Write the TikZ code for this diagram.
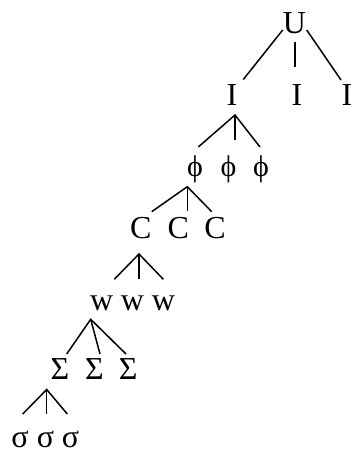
\documentclass[tikz,border=0pt]{standalone}
\usepackage{fontspec}
\setmainfont{Liberation Serif}
\begin{document}
\begin{tikzpicture}[x=1pt,y=-1pt,
  lbl/.style={inner sep=0pt,anchor=base,font=\fontsize{32}{32}\selectfont},
  phi/.style={lbl,font=\fontsize{30}{30}\selectfont},
  edge/.style={line width=1.5pt,line cap=butt}]
\useasboundingbox (0,0) rectangle (351,453);
% ---- labels, one row per level ----
\node[lbl] (U)  at (294.5,33) {U};
\node[lbl] (I1) at (232,105) {I};
\node[lbl] (I2) at (297,105) {I};
\node[lbl] (I3) at (347,105) {I};
\node[phi] (P1) at (195,176) {ϕ};
\node[phi] (P2) at (228.5,176) {ϕ};
\node[phi] (P3) at (261,176) {ϕ};
\node[lbl] (C1) at (140.7,238) {C};
\node[lbl] (C2) at (178.3,238) {C};
\node[lbl] (C3) at (215,238) {C};
\node[lbl] (W1) at (101.7,310) {w};
\node[lbl] (W2) at (132.5,310) {w};
\node[lbl] (W3) at (163.5,310) {w};
\node[lbl] (S1) at (60,379) {Σ};
\node[lbl] (S2) at (94.5,379) {Σ};
\node[lbl] (S3) at (128.3,379) {Σ};
\node[lbl] (s1) at (20,447) {σ};
\node[lbl] (s2) at (45.5,447) {σ};
\node[lbl] (s3) at (70.5,447) {σ};
% ---- branch points and branch ends ----
\coordinate (uL) at (282.7,30);  \coordinate (uLe) at (243.3,79.5);
\coordinate (uM) at (295,42);    \coordinate (uMe) at (295,67);
\coordinate (uR) at (306.7,30);  \coordinate (uRe) at (341,80);
\coordinate (aI) at (235,115);
\coordinate (aI1) at (198.3,147); \coordinate (aI2) at (235,139.5); \coordinate (aI3) at (260,147);
\coordinate (aP) at (187.3,186.7);
\coordinate (aP1) at (151.7,211.7); \coordinate (aP2) at (187.3,210.7); \coordinate (aP3) at (211.7,211.7);
\coordinate (aC) at (139,254);
\coordinate (aC1) at (114.3,279.3); \coordinate (aC2) at (139,279.3); \coordinate (aC3) at (163.3,279.3);
\coordinate (aW) at (90.7,319.3);
\coordinate (aW1) at (66.7,354); \coordinate (aW2) at (100,354); \coordinate (aW3) at (126,354);
\coordinate (aS) at (46.7,389.5);
\coordinate (aS1) at (22.7,414); \coordinate (aS2) at (46.7,414); \coordinate (aS3) at (67.3,414);
% ---- branches ----
\draw[edge] (uL) -- (uLe);
\draw[edge] (uM) -- (uMe);
\draw[edge] (uR) -- (uRe);
\foreach \a in {I,P,C,W,S}{
  \draw[edge] (a\a1) -- (a\a) -- (a\a3);
  \draw[edge] (a\a) -- (a\a2);
}
\end{tikzpicture}
\end{document}
